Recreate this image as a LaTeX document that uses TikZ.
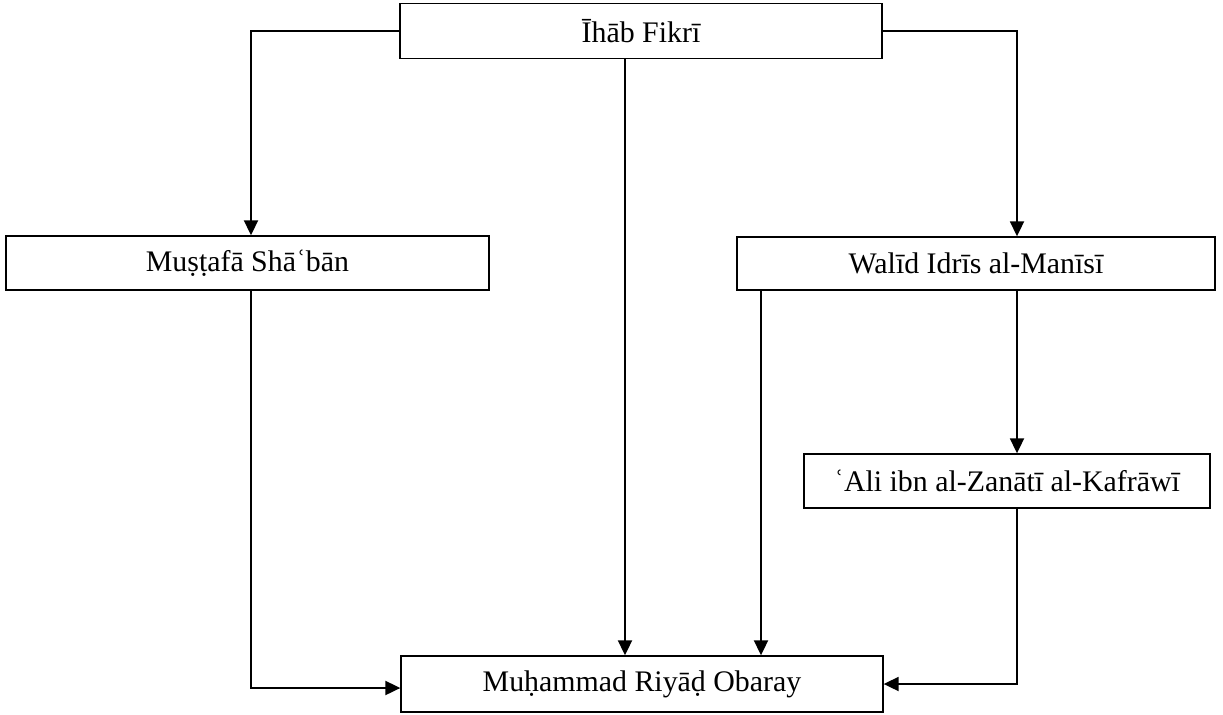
\documentclass[tikz,border=0pt]{standalone}
\usepackage{fontspec}
\setmainfont{Liberation Serif}
\usetikzlibrary{arrows.meta}
\usetikzlibrary{positioning}

\tikzset{
    namebox/.style={draw, line width=0.8pt, inner sep=0pt, font=\fontsize{17}{20}\selectfont},
    link/.style={line width=1.1pt, -{Triangle[length=0.3cm, width=0.28cm]}}
}

\begin{document}
\begin{tikzpicture}[x=0.02cm, y=-0.02cm]
    \useasboundingbox (0, 0) rectangle (1223, 714);
    % boxes
    \node[namebox, minimum width=9.64cm, minimum height=1.1cm] (fikri) at (641, 31) {Īhāb Fikrī};
    \node[namebox, minimum width=9.66cm, minimum height=1.08cm] (mustafa) at (247.5, 263) {Muṣṭafā Shāʿbān};
    \node[namebox, minimum width=9.56cm, minimum height=1.06cm] (walid) at (976, 263.5) {Walīd Idrīs al-Manīsī};
    \node[namebox, minimum width=8.12cm, minimum height=1.08cm] (ali) at (1007, 481) {ʿAli ibn al-Zanātī al-Kafrāwī};
    \node[namebox, minimum width=9.64cm, minimum height=1.12cm] (muhammad) at (642, 684) {Muḥammad Riyāḍ Obaray};

    % columns of the links
    \coordinate (mx) at (251, 0);
    \coordinate (cx) at (625, 0);
    \coordinate (lx) at (761, 0);
    \coordinate (rx) at (1017, 0);

    % links
    \draw[link] (fikri.west) -| (mx |- mustafa.north);
    \draw[link] (fikri.east) -| (rx |- walid.north);
    \draw[link] (cx |- fikri.south) -- (cx |- muhammad.north);
    \draw[link] (mx |- mustafa.south) |- ([yshift=-0.08cm]muhammad.west);
    \draw[link] (lx |- walid.south) -- (lx |- muhammad.north);
    \draw[link] (rx |- walid.south) -- (rx |- ali.north);
    \draw[link] (rx |- ali.south) |- (muhammad.east);

\end{tikzpicture}
\end{document}
